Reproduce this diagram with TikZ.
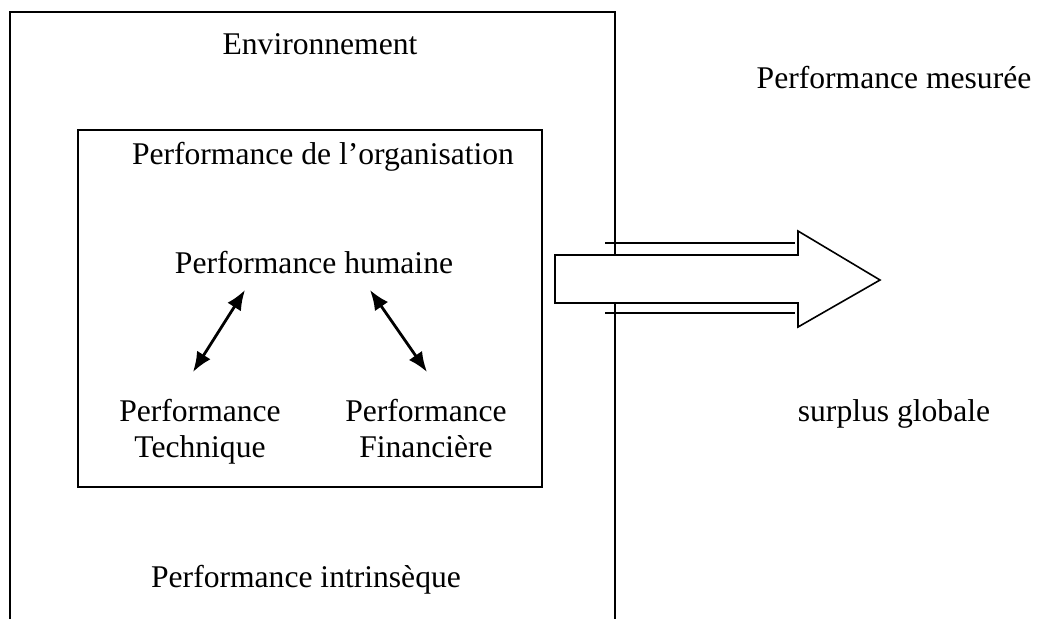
\documentclass[tikz,border=0pt]{standalone}
\usepackage{fontspec}
\setmainfont{Liberation Serif}
\usepackage{tikz}
\usetikzlibrary{
	arrows.meta,
	% positioning,
	% calc,
}
\tikzstyle{biarrow} = [line width=2.8pt,{Latex[length=20pt,width=16pt]}-{Latex[length=20pt,width=16pt]}]
\tikzstyle{cadre} = [line width=1.6pt]
\tikzstyle{texte} = [anchor=base,inner sep=0pt,align=center,font=\fontsize{31.6}{36}\selectfont]

\begin{document}
\begin{tikzpicture}[x=1pt,y=-1pt]
	\useasboundingbox (0,0) rectangle (1038,619);

	% outer box, open at the bottom
	\draw[cadre] (10,619) -- (10,12) -- (615,12) -- (615,619);
	% inner box
	\draw[cadre] (78,130) rectangle (542,487);

	% labels
	\node[texte] (env) at (320,54) {Environnement};
	\node[texte] (org) at (323,164) {Performance de l’organisation};
	\node[texte] (hum) at (314,273) {Performance humaine};
	\node[texte] (tech) at (200,457) {Performance\\Technique};
	\node[texte] (fin) at (426,457) {Performance\\Financière};
	\node[texte] (intr) at (306,587) {Performance intrinsèque};
	\node[texte] (mes) at (894,88) {Performance mesurée};
	\node[texte] (surp) at (894,421) {surplus globale};

	% double arrows
	\draw[biarrow] ([xshift=-7pt,yshift=85pt]tech.base) -- ([xshift=-69pt,yshift=-17pt]hum.base);
	\draw[biarrow] ([xshift=56pt,yshift=-17pt]hum.base) -- ([xshift=1pt,yshift=85pt]fin.base);

	% big arrow
	\draw[cadre, fill=white] (555,255) -- (798,255) -- (798,231) -- (880,280)
	-- (798,327) -- (798,303) -- (555,303) -- cycle;
	\draw[cadre] (605,243) -- (795,243);
	\draw[cadre] (605,313) -- (795,313);

\end{tikzpicture}
\end{document}
